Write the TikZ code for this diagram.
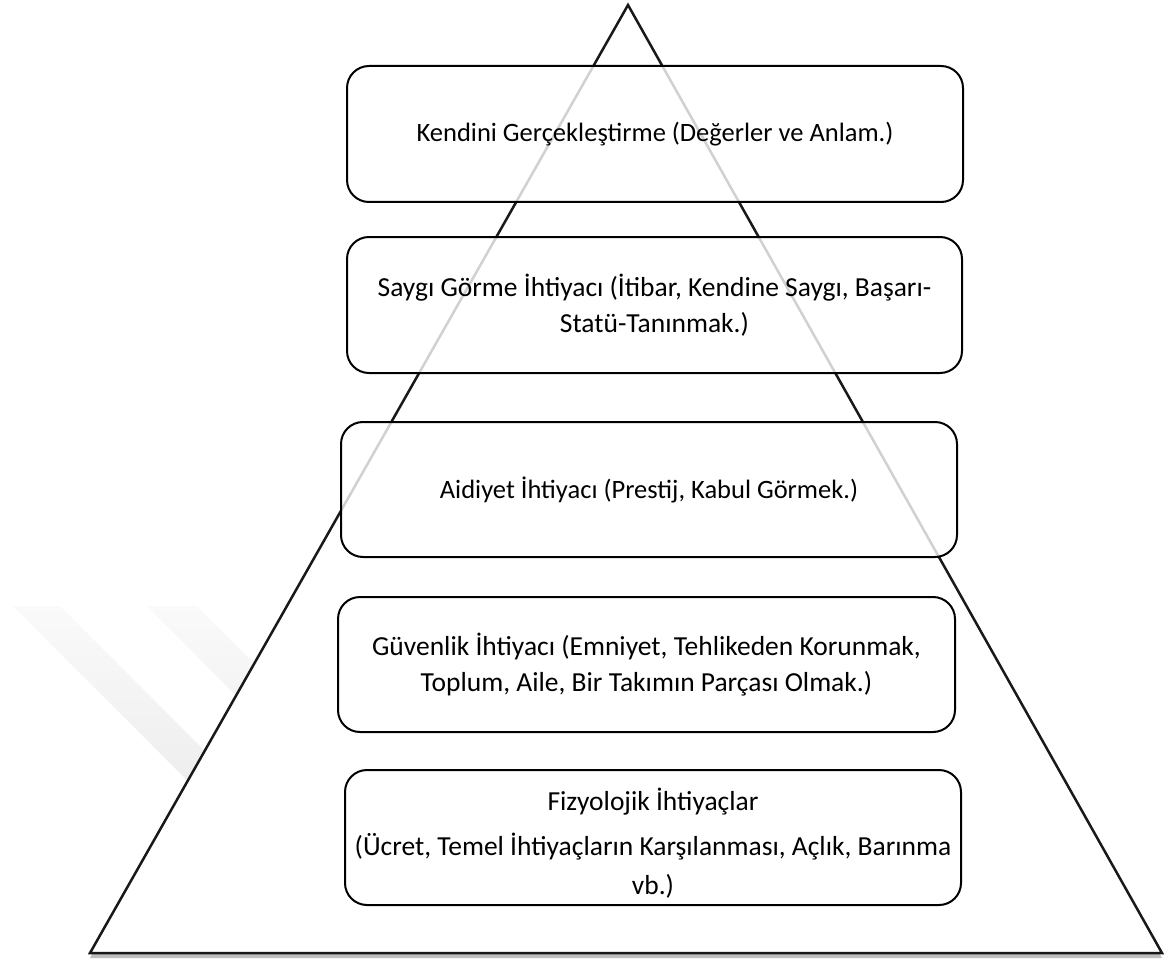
\documentclass[tikz,border=0pt]{standalone}
\usepackage{fontspec}
\setmainfont{Carlito}
\usetikzlibrary{shadows}
\begin{document}
\begin{tikzpicture}[x=1pt,y=-1pt,
  txt/.style={align=center, inner sep=0pt, font=\fontsize{26.5}{35}\selectfont},
  big/.style={font=\fontsize{27.5}{36}\selectfont},
  box/.style={txt, draw=black, line width=2pt, rounded corners=22pt, fill=white,
    fill opacity=0.8, text opacity=1},
  wm/.style={top color=black!2, bottom color=black!10, draw=none}]
\useasboundingbox (0,0) rectangle (1168,963);
\fill[white] (0,0) rectangle (1168,963);
% watermark stripes
\shade[wm] (13,606) -- (60,606) -- (360,906) -- (313,906) -- cycle;
\shade[wm] (147,606) -- (197,606) -- (497,906) -- (447,906) -- cycle;
% pyramid
\coordinate (apex) at (628,5);
\coordinate (bl) at (90,953);
\coordinate (br) at (1162,953);
\filldraw[fill=white, draw=black!90, line width=2.5pt, line join=miter,
  drop shadow={shadow xshift=0pt, shadow yshift=-5pt, fill=black, opacity=0.25}]
  (apex) -- (bl) -- (br) -- cycle;
% levels
\node[box, minimum width=616pt, minimum height=136pt] (b1) at (655,134)
  {Kendini Gerçekleştirme (Değerler ve Anlam.)};
\node[box, big, minimum width=615pt, minimum height=136pt] (b2) at (654.5,305)
  {Saygı Görme İhtiyacı (İtibar, Kendine Saygı, Başarı-\\Statü-Tanınmak.)};
\node[box, minimum width=616pt, minimum height=135pt] (b3) at (649,489.5)
  {Aidiyet İhtiyacı (Prestij, Kabul Görmek.)};
\node[box, big, minimum width=617pt, minimum height=135pt] (b4) at (646.5,664.5)
  {Güvenlik İhtiyacı (Emniyet, Tehlikeden Korunmak,\\Toplum, Aile, Bir Takımın Parçası Olmak.)};
\node[box, minimum width=616pt, minimum height=135pt] (b5) at (653,837.5) {};
\node[txt, big] (t5) at (653,843)
  {Fizyolojik İhtiyaçlar\\[9pt](Ücret, Temel İhtiyaçların Karşılanması, Açlık, Barınma\\[3pt]vb.)};
\end{tikzpicture}
\end{document}
